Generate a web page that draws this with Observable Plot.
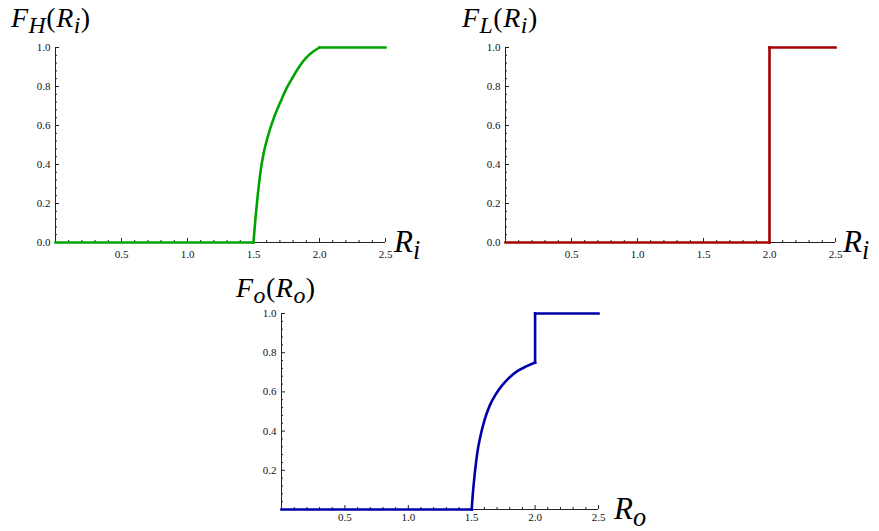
<!DOCTYPE html>
<html>
<head>
<meta charset="utf-8">
<script src="https://cdn.jsdelivr.net/npm/d3@7"></script>
<script src="https://cdn.jsdelivr.net/npm/@observablehq/plot@0.6"></script>
<style>
  html, body { margin: 0; padding: 0; background: #fff; }
  #fig { position: relative; width: 879px; height: 531px; overflow: hidden; }
  #fig svg, #fig svg text { font-family: "Liberation Serif", "Times New Roman", Times, "DejaVu Serif", serif !important; }
  .panel { position: absolute; }
  .math { position: absolute; font-family: "Liberation Serif", "Times New Roman", Times, "DejaVu Serif", serif; line-height: 1; color: #000; white-space: nowrap; }
  .math i { font-style: italic; }
  .math sub { font-size: 0.85em; vertical-align: -0.25em; line-height: 0; font-style: italic; }
  .title { font-size: 28px; letter-spacing: 0.5px; }
  .xlab { font-size: 31px; }
</style>
</head>
<body>
<div id="fig">
  <div class="math title" style="left:11px; top:4px;"><i>F</i><sub>H</sub>(<i>R</i><sub>i</sub>)</div>
  <div class="math title" style="left:462px; top:4px;"><i>F</i><sub>L</sub>(<i>R</i><sub>i</sub>)</div>
  <div class="math title" style="left:236px; top:274px;"><i>F</i><sub>o</sub>(<i>R</i><sub>o</sub>)</div>
  <div class="math xlab" style="left:394px; top:226px;"><i>R</i><sub>i</sub></div>
  <div class="math xlab" style="left:843px; top:226px;"><i>R</i><sub>i</sub></div>
  <div class="math xlab" style="left:614px; top:493px;"><i>R</i><sub>o</sub></div>
</div>
<script>
// ---- data ----
// F_H(R_i): green
const fhR = [0, 1.5, 1.505, 1.528, 1.556, 1.576, 1.609, 1.652, 1.707, 1.75, 1.8, 1.85, 1.9, 1.95, 2.0, 2.5];
const fhF = [0, 0, 0.044, 0.215, 0.376, 0.455, 0.545, 0.635, 0.725, 0.79, 0.85, 0.905, 0.948, 0.978, 1.0, 1.0];
// F_L(R_i): red step
const flR = [0, 2.0, 2.0, 2.5];
const flF = [0, 0, 1.0, 1.0];
// F_o(R_o): blue (smooth part, then jump at 2.0)
const foR = [0, 1.5, 1.503, 1.527, 1.543, 1.567, 1.6, 1.642, 1.69, 1.74, 1.8, 1.86, 1.93, 2.0, 2.0, 2.5];
const foF = [0, 0, 0.03, 0.2, 0.284, 0.369, 0.454, 0.53, 0.588, 0.633, 0.675, 0.706, 0.73, 0.75, 1.0, 1.0];

// ---- tick labels ----
const xMajor = [0.5, 1.0, 1.5, 2.0, 2.5];
const yMajorAll = [0.0, 0.2, 0.4, 0.6, 0.8, 1.0];
const yMajorNoZero = [0.2, 0.4, 0.6, 0.8, 1.0];
const xMinor = d3.range(0, 26).map(i => i / 10).filter(v => Math.abs(v * 2 - Math.round(v * 2)) > 1e-9);
const yMinor = d3.range(0, 26).map(i => i * 0.04).filter(v => Math.abs(v * 5 - Math.round(v * 5)) > 1e-9);

const colors = { H: "#00a400", L: "#a50000", O: "#0000aa" };
const axisColor = "#222";
const serif = "Liberation Serif, Times New Roman, serif";

// group consecutive intervals by kind (flat / vertical / curved) so corners stay sharp
function pieces(R, F) {
  const kind = i => R[i + 1] === R[i] ? "v" : F[i + 1] === F[i] ? "f" : "c";
  const out = [];
  let start = 0;
  for (let i = 0; i < R.length - 1; i++) {
    if (i === R.length - 2 || kind(i + 1) !== kind(i)) {
      const pts = [];
      for (let j = start; j <= i + 1; j++) pts.push({ r: R[j], f: F[j] });
      out.push({ pts, smooth: kind(i) === "c" && pts.length > 2 });
      start = i + 1;
    }
  }
  return out;
}

function panel({R, F, color, width, height, ml, mr, mt, mb, yTicks, xPad}) {
  const lineMarks = pieces(R, F).map(pc => Plot.line(pc.pts, {
    x: "r", y: "f", stroke: color, strokeWidth: 2.6,
    curve: pc.smooth ? "monotone-x" : "linear", strokeLinejoin: "miter", strokeLinecap: "square"
  }));
  return Plot.plot({
    width, height,
    marginLeft: ml, marginRight: mr, marginTop: mt, marginBottom: mb,
    x: { domain: [0, 2.5] },
    y: { domain: [0, 1] },
    style: `font-family: ${serif}; font-size: 11px; color: ${axisColor}; background: transparent; overflow: visible;`,
    marks: [
      Plot.ruleX([0], { stroke: axisColor, strokeWidth: 1 }),
      Plot.ruleY([0], { stroke: axisColor, strokeWidth: 1 }),
      Plot.axisX(xMinor, { tickSize: -2, tickFormat: () => "", label: null, stroke: axisColor }),
      Plot.axisX(xMajor, { tickSize: -4, tickPadding: xPad, tickFormat: d3.format(".1f"), label: null, stroke: axisColor, fill: "#111", fontFamily: serif, fontSize: 11 }),
      Plot.axisY(yMinor, { tickSize: -2, tickFormat: () => "", label: null, stroke: axisColor }),
      Plot.axisY(yTicks, { tickSize: -4, tickPadding: 9, tickFormat: d3.format(".1f"), label: null, stroke: axisColor, fill: "#111", fontFamily: serif, fontSize: 11 }),
      ...lineMarks
    ]
  });
}

const fig = document.getElementById("fig");
function place(svg, left, top) {
  const wrap = document.createElement("div");
  wrap.className = "panel";
  wrap.style.left = left + "px";
  wrap.style.top = top + "px";
  wrap.appendChild(svg);
  fig.insertBefore(wrap, fig.firstChild);
}

place(panel({R: fhR, F: fhF, color: colors.H, width: 440, height: 270, ml: 55, mr: 55, mt: 47, mb: 28, yTicks: yMajorAll, xPad: 12}), 0, 0);
place(panel({R: flR, F: flF, color: colors.L, width: 439, height: 270, ml: 65, mr: 44, mt: 47, mb: 28, yTicks: yMajorAll, xPad: 12}), 440, 0);
place(panel({R: foR, F: foF, color: colors.O, width: 440, height: 261, ml: 61, mr: 62, mt: 43, mb: 22, yTicks: yMajorNoZero, xPad: 8}), 220, 270);
</script>
</body>
</html>
